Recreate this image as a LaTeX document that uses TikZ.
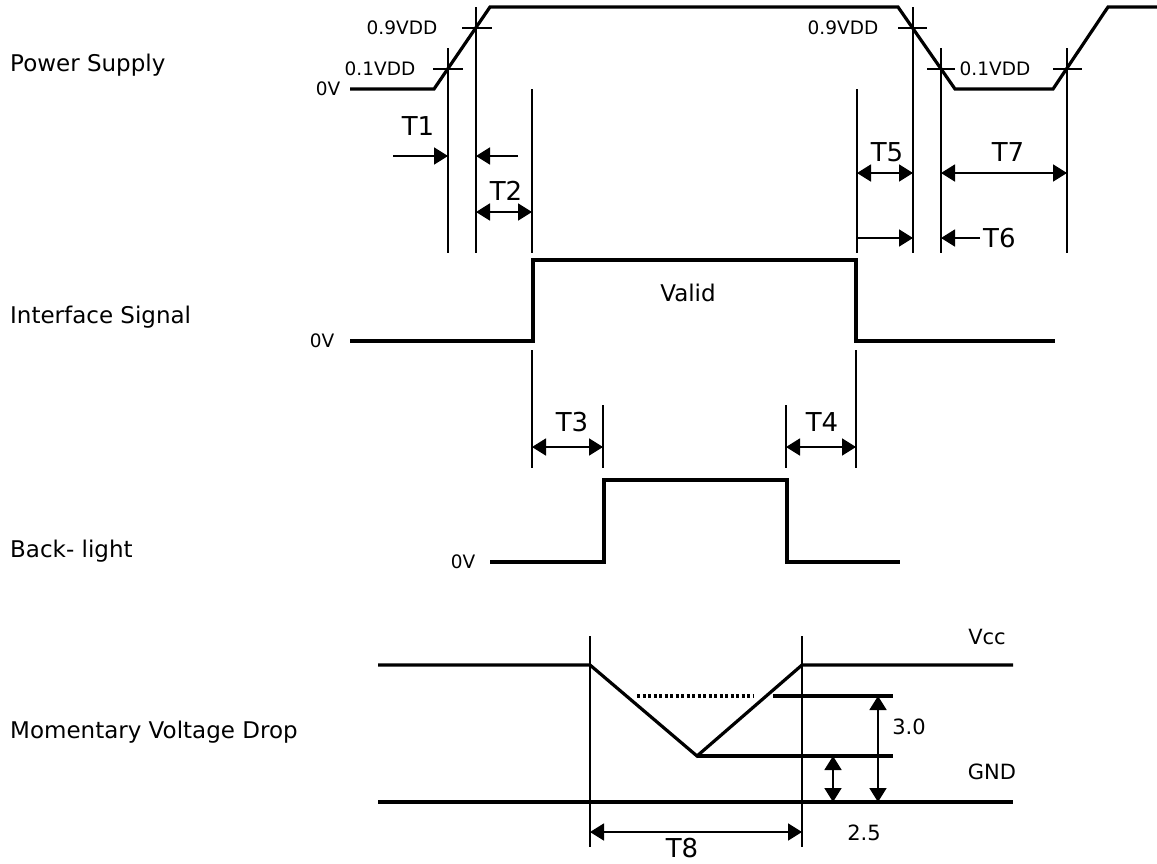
\documentclass[tikz,border=0pt]{standalone}
\usepackage{fontspec}
\setmainfont{DejaVu Sans}
\usetikzlibrary{arrows.meta}

\tikzset{
    big/.style={font=\fontsize{23}{26}\selectfont, inner sep=0pt},
    small/.style={font=\fontsize{18.5}{21}\selectfont, inner sep=0pt},
    tlabel/.style={font=\fontsize{26}{30}\selectfont, inner sep=0pt},
    level/.style={font=\fontsize{21}{24}\selectfont, inner sep=0pt},
    wave/.style={line width=3.2pt, line join=miter},
    guide/.style={line width=2.9pt},
    tick/.style={line width=2.6pt},
    dim/.style={line width=1.8pt},
}

\begin{document}
\begin{tikzpicture}[x=1pt, y=-1pt, >={Triangle[length=14pt,width=17pt]}]
    \useasboundingbox (0,0) rectangle (1157,863);

    % ================= Signal names =================
    \node[big, anchor=base west] (ps) at (10,71) {Power Supply};
    \node[big, anchor=base west] (is) at (10,323) {Interface Signal};
    \node[big, anchor=base west] (bl) at (10,557) {Back- light};
    \node[big, anchor=base west] (mv) at (10,738) {Momentary Voltage Drop};

    % ================= Power Supply =================
    \node[small] (ps0) at (328,89) {0V};
    \draw[wave] (350,89) -- (434,89) -- (490,7) -- (898,7) -- (955,89)
        -- (1053,89) -- (1108,7) -- (1157,7);

    % threshold ticks
    \draw[tick] (433,69) -- (463,69);
    \draw[tick] (462,28) -- (492,28);
    \draw[tick] (898,28) -- (927,28);
    \draw[tick] (927,69) -- (955,69);
    \draw[tick] (1053,69) -- (1082,69);
    \node[small] (v01a) at (380,69) {0.1VDD};
    \node[small] (v09a) at (402,28) {0.9VDD};
    \node[small] (v09b) at (843,28) {0.9VDD};
    \node[small] (v01b) at (995,69) {0.1VDD};

    % guide lines
    \draw[guide] (448,48) -- (448,253);
    \draw[guide] (476,7) -- (476,253);
    \draw[guide] (532,89) -- (532,253);
    \draw[guide] (857,89) -- (857,253);
    \draw[guide] (913,7) -- (913,253);
    \draw[guide] (941,48) -- (941,253);
    \draw[guide] (1067,48) -- (1067,253);

    % timing arrows
    \draw[dim, ->] (393,156) -- (448,156);
    \draw[dim, ->] (518,156) -- (476,156);
    \node[tlabel] (t1) at (418,126) {T1};
    \draw[dim, <->] (476,212) -- (532,212);
    \node[tlabel] (t2) at (506,191) {T2};
    \draw[dim, <->] (857,173) -- (913,173);
    \node[tlabel] (t5) at (887,152) {T5};
    \draw[dim, <->] (941,173) -- (1067,173);
    \node[tlabel] (t7) at (1008,152) {T7};
    \draw[dim, ->] (857,238) -- (913,238);
    \draw[dim, ->] (980,238) -- (941,238);
    \node[tlabel, anchor=west] (t6) at (983,238) {T6};

    % ================= Interface Signal =================
    \node[small] (is0) at (322,341) {0V};
    \draw[wave] (350,341) -- (533,341) -- (533,260) -- (856,260)
        -- (856,341) -- (1055,341);
    \node[big] (valid) at (688,293) {Valid};

    % ================= Back-light =================
    \node[small] (bl0) at (463,562) {0V};
    \draw[wave] (490,562) -- (604,562) -- (604,480) -- (787,480)
        -- (787,562) -- (900,562);

    \draw[guide] (532,350) -- (532,468);
    \draw[guide] (603,405) -- (603,468);
    \draw[guide] (786,405) -- (786,468);
    \draw[guide] (856,350) -- (856,468);
    \draw[dim, <->] (532,447) -- (603,447);
    \node[tlabel] (t3) at (572,422) {T3};
    \draw[dim, <->] (786,447) -- (856,447);
    \node[tlabel] (t4) at (822,422) {T4};

    % ================= Momentary Voltage Drop =================
    \draw[wave] (378,665) -- (590,665) -- (697,756) -- (802,665) -- (1013,665);
    \draw[wave] (697,756) -- (893,756);
    \draw[wave] (773,696) -- (893,696);
    \draw[wave, dash pattern=on 3pt off 2.5pt] (637,696) -- (753,696);
    \draw[wave] (378,802) -- (1013,802);

    \draw[guide] (590,636) -- (590,847);
    \draw[guide] (802,636) -- (802,847);

    \draw[dim, <->] (878,696) -- (878,802);
    \draw[dim, <->] (833,756) -- (833,802);
    \draw[dim, <->] (590,832) -- (802,832);

    \node[level] (vcc) at (987,637) {Vcc};
    \node[level] (gnd) at (992,772) {GND};
    \node[level] (d30) at (909,727) {3.0};
    \node[level] (d25) at (864,833) {2.5};
    \node[tlabel] (t8) at (682,848) {T8};

\end{tikzpicture}
\end{document}
